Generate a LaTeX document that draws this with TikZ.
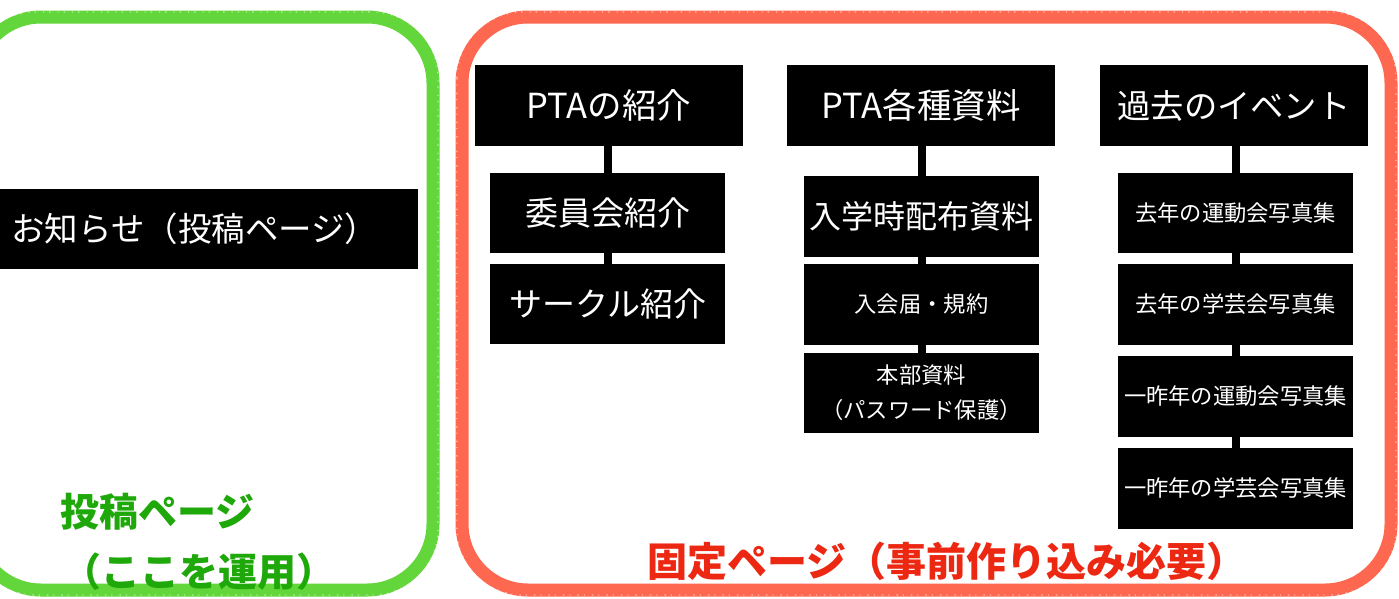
\documentclass[tikz,border=0pt]{standalone}
\usepackage{fontspec}
\newfontfamily\jp{Noto Sans CJK JP}
\definecolor{chalkgreen}{RGB}{98,214,58}
\definecolor{chalkred}{RGB}{255,104,80}
\definecolor{labelgreen}{RGB}{30,168,10}
\definecolor{labelred}{RGB}{236,40,18}
\tikzset{
  boxbig/.style={fill=black, text=white, inner sep=0pt, minimum width=268pt, minimum height=81pt, font=\jp\fontsize{34.5}{40}\selectfont},
  boxmid/.style={fill=black, text=white, inner sep=0pt, minimum width=235pt, minimum height=80pt, font=\jp\fontsize{32}{38}\selectfont},
  boxsmall/.style={fill=black, text=white, inner sep=0pt, minimum width=235pt, minimum height=81pt, align=center, font=\jp\fontsize{22.3}{35}\selectfont},
  conn/.style={draw=black, line width=8pt},
  chalk/.style={line width=13pt, rounded corners=66pt, line join=round},
  speck/.style={line width=1.2pt, draw=white, opacity=0.55, rounded corners=66pt, dash pattern=on 1.5pt off 5pt on 1pt off 7pt},
  lbl/.style={inner sep=0pt, font=\jp\bfseries\fontsize{39}{44}\selectfont},
}
\begin{document}
\begin{tikzpicture}[x=1pt,y=-1pt]
\useasboundingbox (0,0) rectangle (1399,598);
\fill[white] (0,0) rectangle (1399,598);
% chalk frames
\draw[chalk, draw=chalkgreen] (-25,17) rectangle (433,590);
\draw[speck] (-30,12) rectangle (438,595);
\draw[chalk, draw=chalkred] (462,17) rectangle (1391,590);
\draw[speck] (457,12) rectangle (1396,595);
% left box
\node[fill=black, text=white, inner xsep=11pt, inner ysep=0pt, text width=396pt, align=left, minimum height=80pt, font=\jp\fontsize{33.5}{38}\selectfont, anchor=west] (news) at (0,229) {お知らせ（投稿ページ）};
% column 1
\node[boxbig] (t1) at (609,105.5) {PTAの紹介};
\node[boxmid, font=\jp\fontsize{33}{40}\selectfont] (c1a) at (607.5,213) {委員会紹介};
\node[boxmid, font=\jp\fontsize{33}{40}\selectfont] (c1b) at (607.5,304) {サークル紹介};
% column 2
\node[boxbig] (t2) at (921,105.5) {PTA各種資料};
\node[boxmid, minimum height=81pt] (c2a) at (921.5,216.5) {入学時配布資料};
\node[boxsmall] (c2b) at (921.5,304.5) {入会届・規約};
\node[boxsmall, minimum height=80pt] (c2c) at (921.5,393) {本部資料\\（パスワード保護）};
% column 3
\node[boxbig, font=\jp\fontsize{33.3}{40}\selectfont] (t3) at (1234,105.5) {過去のイベント};
\node[boxsmall, minimum height=80pt] (c3a) at (1235.5,213) {去年の運動会写真集};
\node[boxsmall] (c3b) at (1235.5,304.5) {去年の学芸会写真集};
\node[boxsmall] (c3c) at (1235.5,396.5) {一昨年の運動会写真集};
\node[boxsmall] (c3d) at (1235.5,488.5) {一昨年の学芸会写真集};
% connectors
\draw[conn] (c1a.north) -- (c1a.north |- t1.south);
\draw[conn] (c1b.north) -- (c1a.south);
\draw[conn] (c2a.north) -- (c2a.north |- t2.south);
\draw[conn] (c2b.north) -- (c2a.south);
\draw[conn] (c2c.north) -- (c2b.south);
\draw[conn] (c3a.north) -- (c3a.north |- t3.south);
\draw[conn] (c3b.north) -- (c3a.south);
\draw[conn] (c3c.north) -- (c3b.south);
\draw[conn] (c3d.north) -- (c3c.south);
% labels
\node[lbl, text=labelgreen, anchor=base west] (gl1) at (60,526) {投稿ページ};
\node[lbl, text=labelgreen, anchor=base west] (gl2) at (62,586) {（ここを運用）};
\node[lbl, text=labelred, anchor=base west, font=\jp\bfseries\fontsize{40}{44}\selectfont] (rl) at (647,576) {固定ページ（事前作り込み必要）};
\end{tikzpicture}
\end{document}
